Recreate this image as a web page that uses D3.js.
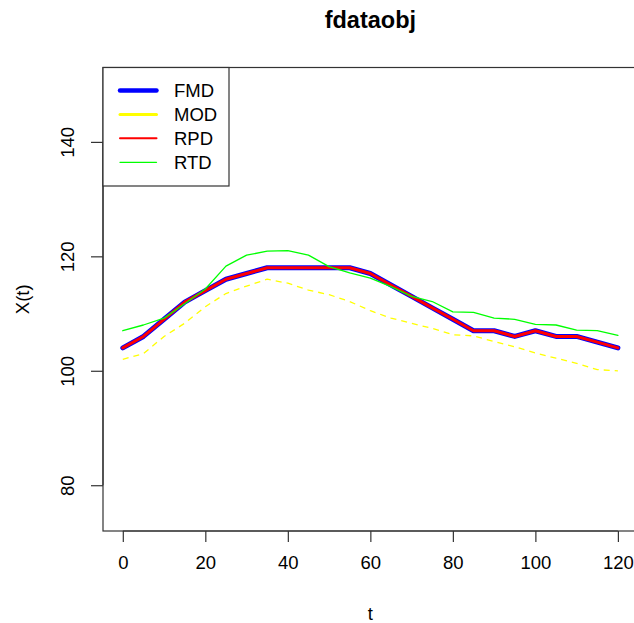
<!DOCTYPE html>
<html>
<head>
<meta charset="utf-8">
<script src="https://cdn.jsdelivr.net/npm/d3@7"></script>
<style>
  html, body { margin: 0; padding: 0; background: #fff; }
  svg { display: block; }
  text { font-family: "Liberation Sans", Arial, sans-serif; fill: #000; }
</style>
</head>
<body>
<svg id="chart" width="634" height="623"></svg>
<script>
// Sampling grid (t) and the four curves
const tValues = [0, 5, 10, 15, 20, 25, 30, 35, 40, 45, 50, 55, 60, 65, 70, 75, 80, 85, 90, 95, 100, 105, 110, 115, 120];
const fmd = [104, 106, 109, 112, 114, 116, 117, 118, 118, 118, 118, 118, 117, 115, 113, 111, 109, 107, 107, 106, 107, 106, 106, 105, 104];
const mod = [102, 103, 106, 108.3, 111.2, 113.5, 114.8, 116, 115.3, 114.1, 113.3, 112.1, 110.5, 109.2, 108.3, 107.4, 106.3, 106.1, 105.1, 104.2, 103.1, 102.2, 101.3, 100.2, 100];
const rpd = [104, 106, 109, 112, 114, 116, 117, 118, 118, 118, 118, 118, 117, 115, 113, 111, 109, 107, 107, 106, 107, 106, 106, 105, 104];
const rtd = [107, 108, 109.2, 111.7, 114.3, 118.3, 120.2, 120.9, 121, 120.2, 118.2, 117.1, 116.2, 114.7, 113, 112.1, 110.3, 110.2, 109.2, 109, 108.1, 108, 107.1, 107, 106.2];

const seriesNames = ["FMD", "MOD", "RPD", "RTD"];
const xTicks = [0, 20, 40, 60, 80, 100, 120];
const yTicks = [80, 100, 120, 140];
const titleText = "fdataobj";
const xLabel = "t";
const yLabel = "X(t)";

// Line styling per series (drawn in this order)
const styles = {
  FMD: { color: "#0000ff", width: 5, dash: null, legendWidth: 4.5 },
  MOD: { color: "#ffff00", width: 1.3, dash: "6,5", legendWidth: 3 },
  RPD: { color: "#ff0000", width: 3, dash: null, legendWidth: 2 },
  RTD: { color: "#00ff00", width: 1.3, dash: null, legendWidth: 1.3 }
};
const seriesData = { FMD: fmd, MOD: mod, RPD: rpd, RTD: rtd };

const svg = d3.select("#chart");
const plot = { left: 103, top: 67.5, right: 637.7, bottom: 531 };

const x = d3.scaleLinear().domain([-4.8, 124.8]).range([plot.left, plot.right]);
const y = d3.scaleLinear().domain([72, 153]).range([plot.bottom, plot.top]);

// Clip curves to the plotting region
svg.append("defs").append("clipPath").attr("id", "plotclip")
  .append("rect")
  .attr("x", plot.left).attr("y", plot.top)
  .attr("width", plot.right - plot.left).attr("height", plot.bottom - plot.top);

const line = d3.line().x(d => x(d[0])).y(d => y(d[1]));

const curves = svg.append("g").attr("clip-path", "url(#plotclip)");
seriesNames.forEach(name => {
  const st = styles[name];
  curves.append("path")
    .datum(tValues.map((t, i) => [t, seriesData[name][i]]))
    .attr("d", line)
    .attr("fill", "none")
    .attr("stroke", st.color)
    .attr("stroke-width", st.width)
    .attr("stroke-linejoin", "round")
    .attr("stroke-linecap", st.dash ? "butt" : "round")
    .attr("stroke-dasharray", st.dash);
});

// Plot frame
svg.append("rect")
  .attr("x", plot.left).attr("y", plot.top)
  .attr("width", plot.right - plot.left).attr("height", plot.bottom - plot.top)
  .attr("fill", "none").attr("stroke", "#333").attr("stroke-width", 1.2);

// Axes
const fontSize = 18.5;
const xAxis = svg.append("g")
  .attr("transform", `translate(0,${plot.bottom})`)
  .call(d3.axisBottom(x).tickValues(xTicks).tickSize(11).tickPadding(14).tickFormat(d3.format("d")));
const yAxis = svg.append("g")
  .attr("transform", `translate(${plot.left},0)`)
  .call(d3.axisLeft(y).tickValues(yTicks).tickSize(12).tickFormat(d3.format("d")));

[xAxis, yAxis].forEach(g => {
  g.select(".domain").attr("stroke", "#333").attr("stroke-width", 1.2);
  g.selectAll(".tick line").attr("stroke", "#333").attr("stroke-width", 1.2);
  g.selectAll("text")
    .style("font-family", '"Liberation Sans", Arial, sans-serif')
    .style("font-size", fontSize + "px")
    .attr("fill", "#000");
});
xAxis.select(".domain").attr("d", `M${x(xTicks[0])},0H${x(xTicks[xTicks.length - 1])}`);
yAxis.select(".domain").attr("d", `M0,${y(yTicks[0])}V${y(yTicks[yTicks.length - 1])}`);

// Rotated y tick labels, as in base R graphics
yAxis.selectAll(".tick text")
  .attr("x", null).attr("dy", null)
  .attr("text-anchor", "middle")
  .attr("transform", "translate(-35,0) rotate(-90)")
  .attr("dy", "0.35em");

// Title and axis titles
svg.append("text")
  .attr("x", (plot.left + plot.right) / 2).attr("y", 28)
  .attr("text-anchor", "middle")
  .style("font-size", "23.5px").style("font-weight", "bold")
  .text(titleText);

svg.append("text")
  .attr("x", (plot.left + plot.right) / 2).attr("y", 620)
  .attr("text-anchor", "middle")
  .style("font-size", fontSize + "px")
  .text(xLabel);

svg.append("text")
  .attr("transform", `translate(29,${(plot.top + plot.bottom) / 2}) rotate(-90)`)
  .attr("text-anchor", "middle")
  .style("font-size", fontSize + "px")
  .text(yLabel);

// Legend
const legend = svg.append("g");
legend.append("rect")
  .attr("x", plot.left).attr("y", plot.top)
  .attr("width", 126).attr("height", 118.5)
  .attr("fill", "#fff").attr("stroke", "#333").attr("stroke-width", 1.2);

const rowY = d3.scaleLinear().domain([0, 3]).range([90.5, 162.3]);
seriesNames.forEach((name, i) => {
  const st = styles[name];
  legend.append("line")
    .attr("x1", 120).attr("x2", 156.5)
    .attr("y1", rowY(i)).attr("y2", rowY(i))
    .attr("stroke", st.color).attr("stroke-width", st.legendWidth)
    .attr("stroke-linecap", "round");
  legend.append("text")
    .attr("x", 174).attr("y", rowY(i))
    .attr("dy", "0.36em")
    .style("font-size", fontSize + "px")
    .text(name);
});
</script>
</body>
</html>
